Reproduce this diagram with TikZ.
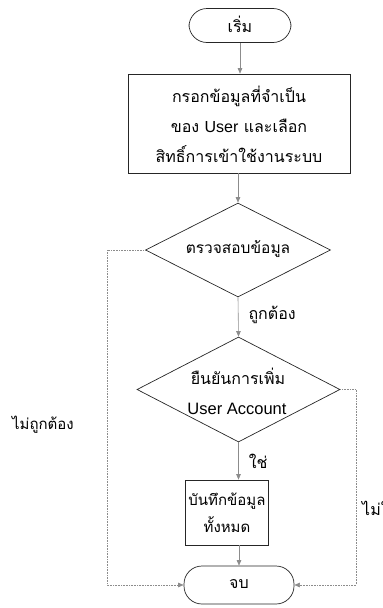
\documentclass[tikz,border=0pt]{standalone}
\usepackage{fontspec}
\setmainfont{Liberation Sans}
\newfontfamily\thai[Script=Thai]{Loma}
\usetikzlibrary{arrows.meta,shapes.geometric}
\tikzset{
  x=1pt, y=-1pt,
  shapeline/.style={draw=black!85, line width=0.7pt},
  term/.style={shapeline, rectangle, rounded corners=18pt, inner sep=0pt},
  procbox/.style={shapeline, rectangle, inner sep=0pt},
  decision/.style={shapeline, diamond, inner sep=0pt},
  txt/.style={font=\thai\fontsize{16}{30}\selectfont, align=center, inner sep=0pt},
  lbl/.style={font=\thai\fontsize{16}{20}\selectfont, inner sep=0pt},
  flow/.style={draw=black!45, line width=0.6pt, -{Triangle[length=5.5pt,width=4.5pt]}},
  loopline/.style={draw=black!45, line width=0.6pt, densely dotted, -{Triangle[length=5.5pt,width=4.5pt]}},
}
\begin{document}
\begin{tikzpicture}
\useasboundingbox (0,0) rectangle (383,608);
% shapes
\node[term, minimum width=102pt, minimum height=34pt] (start) at (240,25.5) {};
\node[txt] (starttext) at (240,24) {เริ่ม};
\node[procbox, minimum width=222pt, minimum height=99pt] (p1) at (239,123.5) {};
\node[txt] (p1text) at (239,124) {กรอกข้อมูลที่จำเป็น\\ของ {\fontspec{Liberation Sans}User} และเลือก\\สิทธิ์การเข้าใช้งานระบบ};
\node[decision, minimum width=185pt, minimum height=94pt] (d1) at (238,250) {};
\node[txt, font=\thai\fontsize{15.5}{30}\selectfont] (d1text) at (238,249) {ตรวจสอบข้อมูล};
\node[decision, minimum width=203pt, minimum height=105pt] (d2) at (238.5,389.5) {};
\node[txt] (d2a) at (238,376) {ยืนยันการเพิ่ม};
\node[font=\fontsize{16.5}{20}\selectfont, inner sep=0pt] (d2b) at (237,409) {User Account};
\node[procbox, minimum width=83pt, minimum height=65pt] (p2) at (226.5,512.5) {};
\node[txt, font=\thai\fontsize{15}{27}\selectfont] (p2text) at (227,513) {บันทึกข้อมูล\\ทั้งหมด};
\node[term, minimum width=110pt, minimum height=38pt] (end) at (239,585) {};
\node[txt] (endtext) at (239,584) {จบ};
% loop corners
\coordinate (l1) at (107,250);
\coordinate (l2) at (107,585);
\coordinate (r1) at (356,389.5);
\coordinate (r2) at (356,585);
% connectors
\draw[flow] (start.south) -- (start.south |- p1.north);
\draw[flow] (p1.south -| d1.north) -- (d1.north);
\draw[flow] (d1.south) -- (d2.north) node[lbl, pos=0.45, anchor=west, xshift=10pt] (ok) {ถูกต้อง};
\draw[flow] (d2.south) -- (d2.south |- p2.north) node[lbl, midway, anchor=west, xshift=10pt] (yes) {ใช่};
\draw[flow] (p2.south -| end.north) -- (end.north);
\draw[loopline] (d1.west) -- (l1) -- (l2) -- (end.west);
\draw[loopline] (d2.east) -- (r1) -- (r2) -- (end.east);
\node[lbl, font=\thai\fontsize{15}{20}\selectfont, anchor=center] (no1) at (43,425) {ไม่ถูกต้อง};
\node[lbl, anchor=west] (no2) at (362,508) {ไม่ใช่};
\end{tikzpicture}
\end{document}
